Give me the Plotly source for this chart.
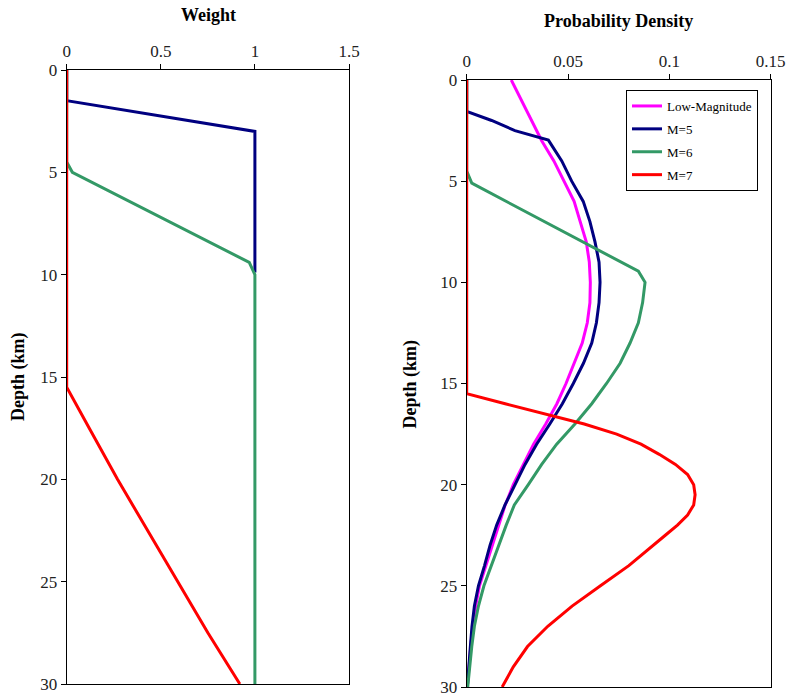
import plotly.graph_objects as go

# ---------------- data ----------------
# Left panel: weights vs depth
w_m5_depth = [0, 1.2, 1.5, 3.0, 9.9]
w_m5_weight = [0, 0, 0, 1.0, 1.0]
w_m6_depth = [0, 4.5, 5.0, 9.4, 10.0, 30]
w_m6_weight = [0, 0, 0.03, 0.97, 1.0, 1.0]
w_m7_depth = [0, 15.5, 17.5, 20, 22.5, 25, 27.5, 30]
w_m7_weight = [0, 0, 0.12, 0.27, 0.43, 0.59, 0.75, 0.92]

# Right panel: probability density vs depth
depth_grid = [0, 1, 2, 3, 4, 5, 6, 7, 8, 9, 10, 11, 12, 13, 14, 15, 16, 17, 18,
              19, 20, 21, 22, 23, 24, 25, 26, 27, 28, 29, 30]
pd_low = [0.022, 0.027, 0.032, 0.037, 0.043, 0.048, 0.053, 0.056, 0.059, 0.0605,
          0.061, 0.0608, 0.0595, 0.057, 0.053, 0.049, 0.0445, 0.039, 0.033, 0.028,
          0.023, 0.019, 0.0158, 0.0125, 0.0093, 0.0063, 0.0044, 0.003, 0.002, 0.001, 0.0003]

pd_m5_depth = [0, 1.55, 2.0, 2.5, 2.97, 4, 5, 6, 7, 8, 9, 10, 11, 12, 13, 14, 15, 16,
               17, 18, 19, 20, 21, 22, 23, 24, 25, 26, 27, 28, 29, 30]
pd_m5 = [0, 0, 0.0123, 0.0238, 0.0403, 0.0469, 0.0518, 0.0575, 0.0608, 0.0633, 0.0653,
         0.0658, 0.0653, 0.064, 0.0617, 0.0576, 0.0526, 0.0472, 0.041, 0.0345, 0.0288,
         0.0238, 0.0189, 0.0148, 0.0115, 0.0088, 0.0058, 0.0038, 0.0026, 0.0018, 0.001, 0.0003]

pd_m6_depth = [0, 4.5, 5.1, 9.45, 10.0, 11, 12, 13, 14, 15, 16, 17, 18, 19, 20, 21,
               22, 23, 24, 25, 26, 27, 28, 29, 30]
pd_m6 = [0, 0, 0.0025, 0.0847, 0.088, 0.0868, 0.0847, 0.0806, 0.0757, 0.069, 0.0617,
         0.0534, 0.0444, 0.037, 0.0304, 0.0235, 0.0195, 0.0158, 0.0123, 0.0085, 0.0058,
         0.0038, 0.0025, 0.0015, 0.0005]

pd_m7_depth = [0, 15.5, 16, 16.5, 17, 17.5, 18, 18.5, 19, 19.5, 20, 20.5, 21, 21.5, 22,
               22.5, 23, 24, 25, 26, 27, 28, 29, 30]
pd_m7 = [0, 0, 0.019, 0.038, 0.058, 0.074, 0.086, 0.095, 0.103, 0.109, 0.112, 0.1127,
         0.112, 0.109, 0.104, 0.098, 0.092, 0.08, 0.066, 0.052, 0.04, 0.03, 0.023, 0.0175]

series_names = ["Low-Magnitude", "M=5", "M=6", "M=7"]
colors = {"Low-Magnitude": "#FF00FF", "M=5": "#000080", "M=6": "#339966", "M=7": "#FF0000"}

weight_ticks = [0, 0.5, 1, 1.5]
pd_ticks = [0, 0.05, 0.1, 0.15]
depth_ticks = [0, 5, 10, 15, 20, 25, 30]

FONT = "Liberation Serif, Times New Roman, serif"
W, H = 788, 695
LW = 3

fig = go.Figure()

# Left panel traces
fig.add_trace(go.Scatter(x=w_m5_weight, y=w_m5_depth, mode="lines", xaxis="x", yaxis="y",
                         line=dict(color=colors["M=5"], width=LW), showlegend=False))
fig.add_trace(go.Scatter(x=w_m6_weight, y=w_m6_depth, mode="lines", xaxis="x", yaxis="y",
                         line=dict(color=colors["M=6"], width=LW), showlegend=False))
fig.add_trace(go.Scatter(x=w_m7_weight, y=w_m7_depth, mode="lines", xaxis="x", yaxis="y",
                         line=dict(color=colors["M=7"], width=LW), showlegend=False))

# Right panel traces
right_series = [
    (pd_low, depth_grid, series_names[0]),
    (pd_m5, pd_m5_depth, series_names[1]),
    (pd_m6, pd_m6_depth, series_names[2]),
    (pd_m7, pd_m7_depth, series_names[3]),
]
for xs, ys, name in right_series:
    fig.add_trace(go.Scatter(x=xs, y=ys, mode="lines", xaxis="x2", yaxis="y2",
                             name=name, legendgroup=name,
                             line=dict(color=colors[name], width=LW)))

tickfont = dict(family=FONT, size=17, color="#222222")
common_axis = dict(showline=True, linecolor="black", linewidth=1, mirror=True,
                   ticks="outside", ticklen=5, tickcolor="black", tickwidth=1,
                   showgrid=False, zeroline=False, tickfont=tickfont, automargin=False,
                   ticklabeloverflow="allow")

# pixel -> paper helpers
def px_x(p):
    return p / W

def px_y(p):
    return (H - p) / H

fig.update_layout(
    width=W, height=H,
    margin=dict(l=0, r=0, t=0, b=0, autoexpand=False),
    paper_bgcolor="white", plot_bgcolor="white",
    xaxis=dict(domain=[px_x(66.7), px_x(349)], range=[0, 1.5], side="top",
               tickvals=weight_ticks, ticktext=[f"{v:g}" for v in weight_ticks],
               anchor="y", **common_axis),
    yaxis=dict(domain=[px_y(684), px_y(70)], range=[30, 0],
               tickvals=depth_ticks, anchor="x", **common_axis),
    xaxis2=dict(domain=[px_x(466.7), px_x(770.7)], range=[0, 0.15], side="top",
                tickvals=pd_ticks, ticktext=[f"{v:g}" for v in pd_ticks],
                anchor="y2", **common_axis),
    yaxis2=dict(domain=[px_y(687), px_y(80)], range=[30, 0],
                tickvals=depth_ticks, anchor="x2", **common_axis),
    legend=dict(x=px_x(626), y=px_y(90), xanchor="left", yanchor="top",
                bordercolor="black", borderwidth=1, bgcolor="white",
                font=dict(family=FONT, size=13, color="black"),
                tracegroupgap=3),
    showlegend=True,
)

annotations = [
    dict(text="<b>Weight</b>", x=px_x(208), y=px_y(15)),
    dict(text="<b>Probability Density</b>", x=px_x(618.7), y=px_y(21)),
    dict(text="<b>Depth (km)</b>", x=px_x(18), y=px_y(377), textangle=-90),
    dict(text="<b>Depth (km)</b>", x=px_x(410), y=px_y(383.5), textangle=-90),
]
for a in annotations:
    fig.add_annotation(xref="paper", yref="paper", showarrow=False,
                       xanchor="center", yanchor="middle",
                       font=dict(family=FONT, size=18, color="black"), **a)

fig.write_html("out.html")
